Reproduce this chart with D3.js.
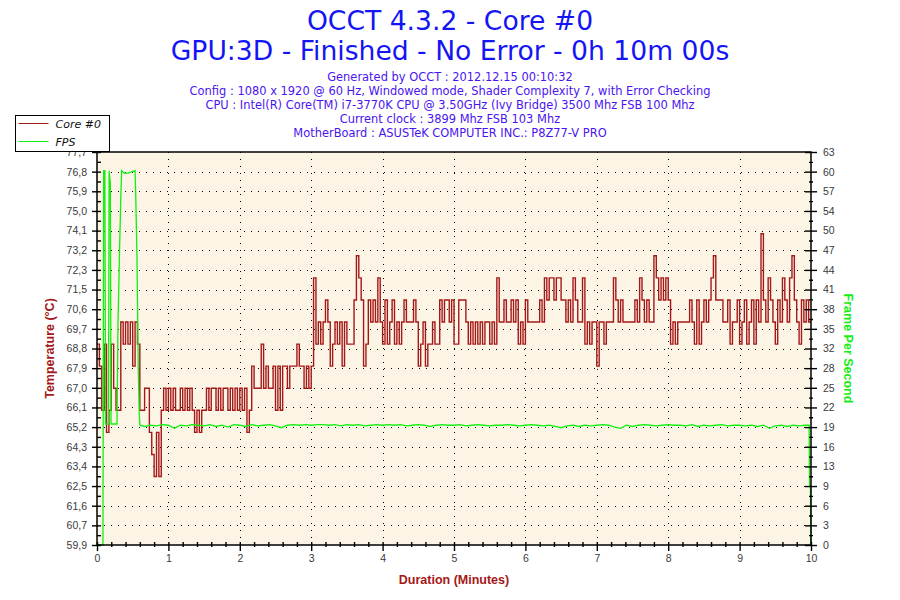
<!DOCTYPE html>
<html>
<head>
<meta charset="utf-8">
<script src="https://d3js.org/d3.v7.min.js"></script>
<style>
    body { margin: 0; background: #ffffff; }
</style>
</head>
<body>
<div id="chart-area"></div>
<script>
/*
*    OCCT 4.3.2 - Core #0 temperature / FPS log
*/

// Temperature (°C), one reading every 2 seconds, 0s .. 600s
var tempStep = 2;
var tempValues = [
    69, 68, 66, 69, 65, 66, 69, 67, 66, 66,
    70, 69, 70, 69, 70, 68, 70, 69, 66, 66,
    67, 67, 65, 64, 63, 65, 63, 66, 67, 66,
    67, 66, 67, 66, 66, 67, 66, 67, 66, 67,
    66, 65, 66, 65, 66, 66, 67, 66, 67, 67,
    66, 67, 66, 67, 67, 66, 67, 66, 67, 66,
    67, 66, 67, 65, 66, 68, 67, 67, 67, 69,
    67, 68, 67, 67, 68, 66, 68, 66, 68, 68,
    67, 68, 68, 68, 69, 68, 68, 67, 68, 67,
    68, 72, 69, 70, 69, 70, 71, 70, 68, 69,
    70, 69, 70, 68, 70, 69, 69, 69, 71, 73,
    72, 71, 68, 69, 71, 70, 71, 70, 72, 70,
    69, 71, 69, 70, 71, 69, 70, 69, 70, 71,
    70, 70, 70, 71, 70, 68, 69, 70, 68, 69,
    69, 70, 69, 69, 71, 70, 71, 71, 70, 71,
    69, 69, 71, 71, 71, 70, 69, 70, 69, 70,
    69, 70, 69, 70, 70, 69, 70, 69, 72, 70,
    70, 71, 70, 70, 71, 70, 71, 69, 70, 69,
    71, 70, 70, 70, 70, 70, 71, 70, 72, 71,
    72, 72, 71, 72, 72, 71, 71, 70, 71, 70,
    72, 71, 70, 70, 72, 69, 70, 69, 70, 70,
    68, 70, 70, 69, 70, 70, 70, 72, 71, 70,
    71, 70, 70, 70, 70, 70, 71, 70, 72, 71,
    70, 71, 70, 70, 73, 72, 71, 72, 71, 72,
    71, 69, 70, 69, 70, 70, 70, 70, 70, 71,
    70, 69, 71, 69, 70, 71, 70, 71, 72, 73,
    71, 71, 71, 70, 70, 71, 69, 70, 70, 71,
    69, 70, 71, 69, 70, 71, 69, 71, 70, 74,
    71, 70, 72, 71, 70, 69, 71, 70, 72, 71,
    70, 72, 73, 71, 70, 69, 71, 70, 71, 70,
    70
];

// FPS during the start-up phase (seconds / value)
var fpsStartSeconds = [0, 5.0, 5.6, 6.6, 7.2, 9.6, 10.2, 11.2, 11.8, 16.8, 17.6, 18.7, 19.9, 20.7, 23, 26, 29, 32, 32.5, 33.6, 34.7, 35.5, 36.1];
var fpsStartValues  = [0, 0, 60, 60, 19.4, 19.4, 60, 58, 19.4, 19.4, 35, 45, 55, 60, 59.6, 59.6, 59.8, 60, 56.5, 46, 28, 21, 19.2];

// FPS steady part, one reading every 5 seconds from 40s to 595s
var fpsSteadyFrom = 40;
var fpsSteadyStep = 5;
var fpsSteadyValues = [
    19.0, 19.2, 19.1, 19.3, 19.2, 18.7, 19.2, 19.1, 19.3, 19.2,
    19.1, 19.3, 19.0, 19.2, 18.9, 19.3, 19.2, 19.0, 19.3, 19.1,
    19.2, 19.3, 19.1, 18.8, 19.2, 19.3, 19.2, 19.3, 19.2, 19.3,
    19.3, 19.2, 19.3, 19.1, 19.3, 19.2, 19.3, 19.1, 19.2, 19.3,
    19.2, 19.3, 19.2, 19.3, 19.1, 19.2, 19.3, 19.2, 19.0, 19.2,
    19.3, 19.2, 19.2, 19.3, 19.1, 19.2, 19.3, 19.2, 19.1, 19.2,
    19.2, 19.3, 19.2, 19.1, 19.2, 19.3, 19.2, 19.1, 19.2, 19.0,
    18.8, 19.1, 19.2, 19.0, 19.2, 19.1, 19.2, 19.3, 19.2, 18.9,
    18.7, 19.2, 19.0, 19.2, 19.3, 19.2, 19.1, 19.2, 19.3, 19.2,
    19.2, 19.1, 19.3, 19.0, 19.2, 19.1, 19.2, 19.3, 19.1, 19.2,
    19.2, 19.1, 19.2, 19.0, 19.2, 18.7, 19.1, 19.2, 19.0, 19.2,
    19.1, 19.2
];

// FPS at the end of the test
var fpsEndSeconds = [598.4, 598.8, 599.5, 600];
var fpsEndValues  = [19.2, 9.6, 9.6, 0];

// Axes
var tempMin = 59.9, tempMax = 77.7;
var fpsMax = 63;
var leftTickLabels = ["59,9", "60,7", "61,6", "62,5", "63,4", "64,3", "65,2", "66,1", "67,0", "67,9", "68,8",
                      "69,7", "70,6", "71,5", "72,3", "73,2", "74,1", "75,0", "75,9", "76,8", "77,7"];
var rightTickLabels = ["0", "3", "6", "9", "13", "16", "19", "22", "25", "28", "32",
                       "35", "38", "41", "44", "47", "50", "54", "57", "60", "63"];
var minuteTicks = [0, 1, 2, 3, 4, 5, 6, 7, 8, 9, 10];

var titleLines = ["OCCT 4.3.2 - Core #0", "GPU:3D - Finished - No Error - 0h 10m 00s"];
var infoLines = [
    "Generated by OCCT : 2012.12.15 00:10:32",
    "Config : 1080 x 1920 @ 60 Hz, Windowed mode, Shader Complexity 7, with Error Checking",
    "CPU : Intel(R) Core(TM) i7-3770K CPU @ 3.50GHz (Ivy Bridge) 3500 Mhz FSB 100 Mhz",
    "Current clock : 3899 Mhz FSB 103 Mhz",
    "MotherBoard : ASUSTeK COMPUTER INC.: P8Z77-V PRO"
];

var tempColor = "#a51818",
    fpsColor = "#11f011",
    tickFont = "'Liberation Sans', Arial, sans-serif",
    titleFont = "'DejaVu Sans', Verdana, sans-serif";

var margin = { left:97, right:89, top:152, bottom:55 };

var width = 900 - margin.left - margin.right,
    height = 600 - margin.top - margin.bottom;

var svg = d3.select("#chart-area")
    .append("svg")
        .attr("width", 900)
        .attr("height", 600);

var g = svg.append("g")
        .attr("transform", "translate(" + margin.left + ", " + margin.top + ")");

// Titles
svg.selectAll("text.title")
    .data(titleLines)
    .enter()
    .append("text")
        .attr("class", "title")
        .attr("x", 450)
        .attr("y", function(d, i){ return 29.5 + i * 30; })
        .attr("text-anchor", "middle")
        .attr("font-family", titleFont)
        .attr("font-size", "26.6px")
        .attr("fill", "#1414f5")
        .text(function(d){ return d; });

svg.selectAll("text.info")
    .data(infoLines)
    .enter()
    .append("text")
        .attr("class", "info")
        .attr("x", 450)
        .attr("y", function(d, i){ return 80.5 + i * 14; })
        .attr("text-anchor", "middle")
        .attr("font-family", titleFont)
        .attr("font-size", "11.45px")
        .attr("fill", "#4a14f0")
        .text(function(d){ return d; });

// Scales
var x = d3.scaleLinear()
    .domain([0, 10])
    .range([0, width]);

var y = d3.scaleLinear()
    .domain([tempMin, tempMax])
    .range([height, 0]);

var y2 = d3.scaleLinear()
    .domain([0, fpsMax])
    .range([height, 0]);

var leftStep = (tempMax - tempMin) / (leftTickLabels.length - 1);
var leftTicks = leftTickLabels.map(function(d, i){ return tempMin + i * leftStep; });
var leftMinor = leftTicks.slice(1).map(function(d){ return d - leftStep / 2; });
var rightStep = fpsMax / (rightTickLabels.length - 1);
var rightTicks = rightTickLabels.map(function(d, i){ return i * rightStep; });
var rightMinor = rightTicks.slice(1).map(function(d){ return d - rightStep / 2; });
var minuteMinor = d3.range(0, 50).map(function(i){ return i / 5; })
    .filter(function(d){ return minuteTicks.indexOf(d) < 0; });

// Plot background
g.append("rect")
    .attr("width", width)
    .attr("height", height)
    .attr("fill", "#fcf5e6");

// Grid
g.append("g")
    .selectAll("line")
    .data(leftTicks.slice(1, -1))
    .enter()
    .append("line")
        .attr("x1", 0)
        .attr("x2", width)
        .attr("y1", function(d){ return Math.round(y(d)) + 0.5; })
        .attr("y2", function(d){ return Math.round(y(d)) + 0.5; })
        .attr("stroke", "#000")
        .attr("stroke-dasharray", "1,6")
        .attr("shape-rendering", "crispEdges");

g.append("g")
    .selectAll("line")
    .data(minuteTicks.slice(1, -1))
    .enter()
    .append("line")
        .attr("x1", function(d){ return Math.round(x(d)) + 0.5; })
        .attr("x2", function(d){ return Math.round(x(d)) + 0.5; })
        .attr("y1", 0)
        .attr("y2", height)
        .attr("stroke", "#000")
        .attr("stroke-dasharray", "1,6")
        .attr("shape-rendering", "crispEdges");

// Lines
var tempData = tempValues.map(function(v, i){ return { min: i * tempStep / 60, value: v }; });

var fpsData = [];
fpsStartSeconds.forEach(function(s, i){ fpsData.push({ min: s / 60, value: fpsStartValues[i] }); });
fpsSteadyValues.forEach(function(v, i){ fpsData.push({ min: (fpsSteadyFrom + i * fpsSteadyStep) / 60, value: v }); });
fpsEndSeconds.forEach(function(s, i){ fpsData.push({ min: s / 60, value: fpsEndValues[i] }); });

var tempLine = d3.line()
    .x(function(d){ return x(d.min); })
    .y(function(d){ return y(d.value); })
    .curve(d3.curveStepAfter);

var fpsLine = d3.line()
    .x(function(d){ return x(d.min); })
    .y(function(d){ return y2(d.value); });

g.append("path")
    .datum(tempData)
    .attr("fill", "none")
    .attr("stroke", tempColor)
    .attr("stroke-width", 1.4)
    .attr("d", tempLine);

g.append("path")
    .datum(fpsData)
    .attr("fill", "none")
    .attr("stroke", fpsColor)
    .attr("stroke-width", 1.3)
    .attr("d", fpsLine);

// Frame
g.append("rect")
    .attr("width", width)
    .attr("height", height)
    .attr("fill", "none")
    .attr("stroke", "#000")
    .attr("stroke-width", 1.5);

function styleAxis(sel) {
    sel.select(".domain").remove();
    sel.selectAll("line").attr("stroke", "#000").attr("stroke-width", 1.4);
    sel.selectAll("text")
        .attr("font-family", tickFont)
        .attr("font-size", "10.5px")
        .attr("fill", "#3a3a3a");
}

// Y Axis (left)
g.append("g")
    .attr("class", "y axis")
    .call(d3.axisLeft(y).tickValues(leftTicks)
        .tickFormat(function(d, i){ return leftTickLabels[i]; })
        .tickSizeInner(5).tickSizeOuter(0).tickPadding(5))
    .call(styleAxis);
g.append("g")
    .call(d3.axisLeft(y).tickValues(leftTicks).tickSize(-4).tickFormat(""))
    .call(styleAxis);
g.append("g")
    .call(d3.axisLeft(y).tickValues(leftMinor).tickSize(-4).tickFormat(""))
    .call(styleAxis);

// Y Axis (right)
g.append("g")
    .attr("class", "y2 axis")
    .attr("transform", "translate(" + width + ",0)")
    .call(d3.axisRight(y2).tickValues(rightTicks)
        .tickFormat(function(d, i){ return rightTickLabels[i]; })
        .tickSizeInner(6).tickSizeOuter(0).tickPadding(6))
    .call(styleAxis);
g.append("g")
    .attr("transform", "translate(" + width + ",0)")
    .call(d3.axisRight(y2).tickValues(rightTicks).tickSize(-6).tickFormat(""))
    .call(styleAxis);
g.append("g")
    .attr("transform", "translate(" + width + ",0)")
    .call(d3.axisRight(y2).tickValues(rightMinor).tickSize(2).tickFormat(""))
    .call(styleAxis);
g.append("g")
    .attr("transform", "translate(" + width + ",0)")
    .call(d3.axisRight(y2).tickValues(rightMinor).tickSize(-2).tickFormat(""))
    .call(styleAxis);

// X Axis
g.append("g")
    .attr("class", "x axis")
    .attr("transform", "translate(0," + height + ")")
    .call(d3.axisBottom(x).tickValues(minuteTicks)
        .tickFormat(d3.format("d"))
        .tickSizeInner(6).tickSizeOuter(0).tickPadding(4))
    .call(styleAxis);
g.append("g")
    .attr("transform", "translate(0," + height + ")")
    .call(d3.axisBottom(x).tickValues(minuteTicks).tickSize(-3).tickFormat(""))
    .call(styleAxis);
g.append("g")
    .attr("transform", "translate(0," + height + ")")
    .call(d3.axisBottom(x).tickValues(minuteMinor).tickSize(2).tickFormat(""))
    .call(styleAxis);
g.append("g")
    .attr("transform", "translate(0," + height + ")")
    .call(d3.axisBottom(x).tickValues(minuteMinor).tickSize(-3).tickFormat(""))
    .call(styleAxis);

// X Label
g.append("text")
    .attr("x", width / 2)
    .attr("y", height + 39)
    .attr("text-anchor", "middle")
    .attr("font-family", tickFont)
    .attr("font-size", "12.5px")
    .attr("font-weight", "bold")
    .attr("fill", tempColor)
    .text("Duration (Minutes)");

// Y Label
g.append("text")
    .attr("x", -(height / 2))
    .attr("y", -43)
    .attr("text-anchor", "middle")
    .attr("transform", "rotate(-90)")
    .attr("font-family", tickFont)
    .attr("font-size", "12.5px")
    .attr("font-weight", "bold")
    .attr("fill", tempColor)
    .text("Temperature (°C)");

// Y2 Label
g.append("text")
    .attr("x", height / 2)
    .attr("y", -(width + 33))
    .attr("text-anchor", "middle")
    .attr("transform", "rotate(90)")
    .attr("font-family", tickFont)
    .attr("font-size", "12.5px")
    .attr("font-weight", "bold")
    .attr("fill", fpsColor)
    .text("Frame Per Second");

// Legend
var legend = svg.append("g")
    .attr("transform", "translate(15.5, 115.5)");

legend.append("rect")
    .attr("width", 94)
    .attr("height", 36)
    .attr("fill", "#fff")
    .attr("stroke", "#000");

var legendItems = [
    { name: "Core #0", color: tempColor },
    { name: "FPS", color: fpsColor }
];

legendItems.forEach(function(d, i){
    legend.append("line")
        .attr("x1", 3)
        .attr("x2", 33)
        .attr("y1", 8 + i * 18)
        .attr("y2", 8 + i * 18)
        .attr("stroke", d.color)
        .attr("stroke-width", 1);
    legend.append("text")
        .attr("x", 40)
        .attr("y", 12 + i * 18)
        .attr("font-family", titleFont)
        .attr("font-size", "11px")
        .attr("font-style", "italic")
        .attr("fill", "#111")
        .text(d.name);
});
</script>
</body>
</html>
